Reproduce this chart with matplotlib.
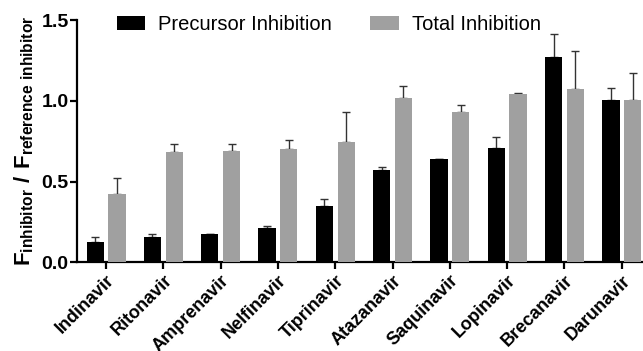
import matplotlib
matplotlib.use("Agg")
import matplotlib.pyplot as plt
import numpy as np

categories = ["Indinavir", "Ritonavir", "Amprenavir", "Nelfinavir", "Tiprinavir",
              "Atazanavir", "Saquinavir", "Lopinavir", "Brecanavir", "Darunavir"]
precursor = [0.128, 0.159, 0.173, 0.211, 0.349, 0.572, 0.638, 0.710, 1.269, 1.005]
precursor_err = [0.031, 0.016, 0.0, 0.014, 0.043, 0.016, 0.0, 0.064, 0.143, 0.072]
total = [0.421, 0.685, 0.691, 0.700, 0.747, 1.015, 0.929, 1.044, 1.071, 1.005]
total_err = [0.103, 0.048, 0.042, 0.057, 0.186, 0.077, 0.047, 0.006, 0.237, 0.165]
yticks = [0.0, 0.5, 1.0, 1.5]

plt.rcParams['font.family'] = ['Liberation Sans', 'DejaVu Sans']
plt.rcParams['mathtext.fontset'] = 'custom'
plt.rcParams['mathtext.rm'] = 'Liberation Sans'
plt.rcParams['mathtext.bf'] = 'Liberation Sans:bold'

fig = plt.figure(figsize=(6.43, 3.51), dpi=100)
ax = fig.add_axes([0.1198, 0.2527, 0.8802, 0.6903])

x = np.arange(len(categories))
w = 0.30
off = 0.19
ax.bar(x - off, precursor, width=w, color='black', label='Precursor Inhibition', zorder=3)
ax.bar(x + off, total, width=w, color='#a0a0a0', label='Total Inhibition', zorder=3)
ax.errorbar(x - off, precursor, yerr=[np.zeros(len(x)), precursor_err], fmt='none',
            ecolor='#333333', elinewidth=1.0, capsize=3, capthick=1.0, zorder=2)
ax.errorbar(x + off, total, yerr=[np.zeros(len(x)), total_err], fmt='none',
            ecolor='#333333', elinewidth=1.0, capsize=3, capthick=1.0, zorder=2)

ax.set_xlim(-0.506, 9.37)
ax.set_ylim(0, 1.5)
ax.set_yticks(yticks)
ax.set_yticklabels([f"{v:.1f}" for v in yticks], fontsize=14, fontweight='bold')
ax.set_xticks(x)
ax.set_xticklabels(categories, rotation=45, ha='right', rotation_mode='anchor',
                   fontsize=13, fontweight='bold')
for s in ['top', 'right']:
    ax.spines[s].set_visible(False)
for s in ['left', 'bottom']:
    ax.spines[s].set_linewidth(1.6)
ax.tick_params(axis='both', direction='out', length=5, width=1.6)
ax.tick_params(axis='y', pad=1)
ax.tick_params(axis='x', pad=2)

ax.set_ylabel(r'$\mathbf{F_{inhibitor}\ /\ F_{reference\ inhibitor}}$', fontsize=16, labelpad=4)

ax.legend(loc='upper left', bbox_to_anchor=(0.0707, 1.02), ncol=2, frameon=False,
          fontsize=14.5, handlelength=1.4, handleheight=0.7, columnspacing=1.9,
          handletextpad=0.65, borderpad=0, borderaxespad=0)

fig.savefig('out.png', dpi=100)
